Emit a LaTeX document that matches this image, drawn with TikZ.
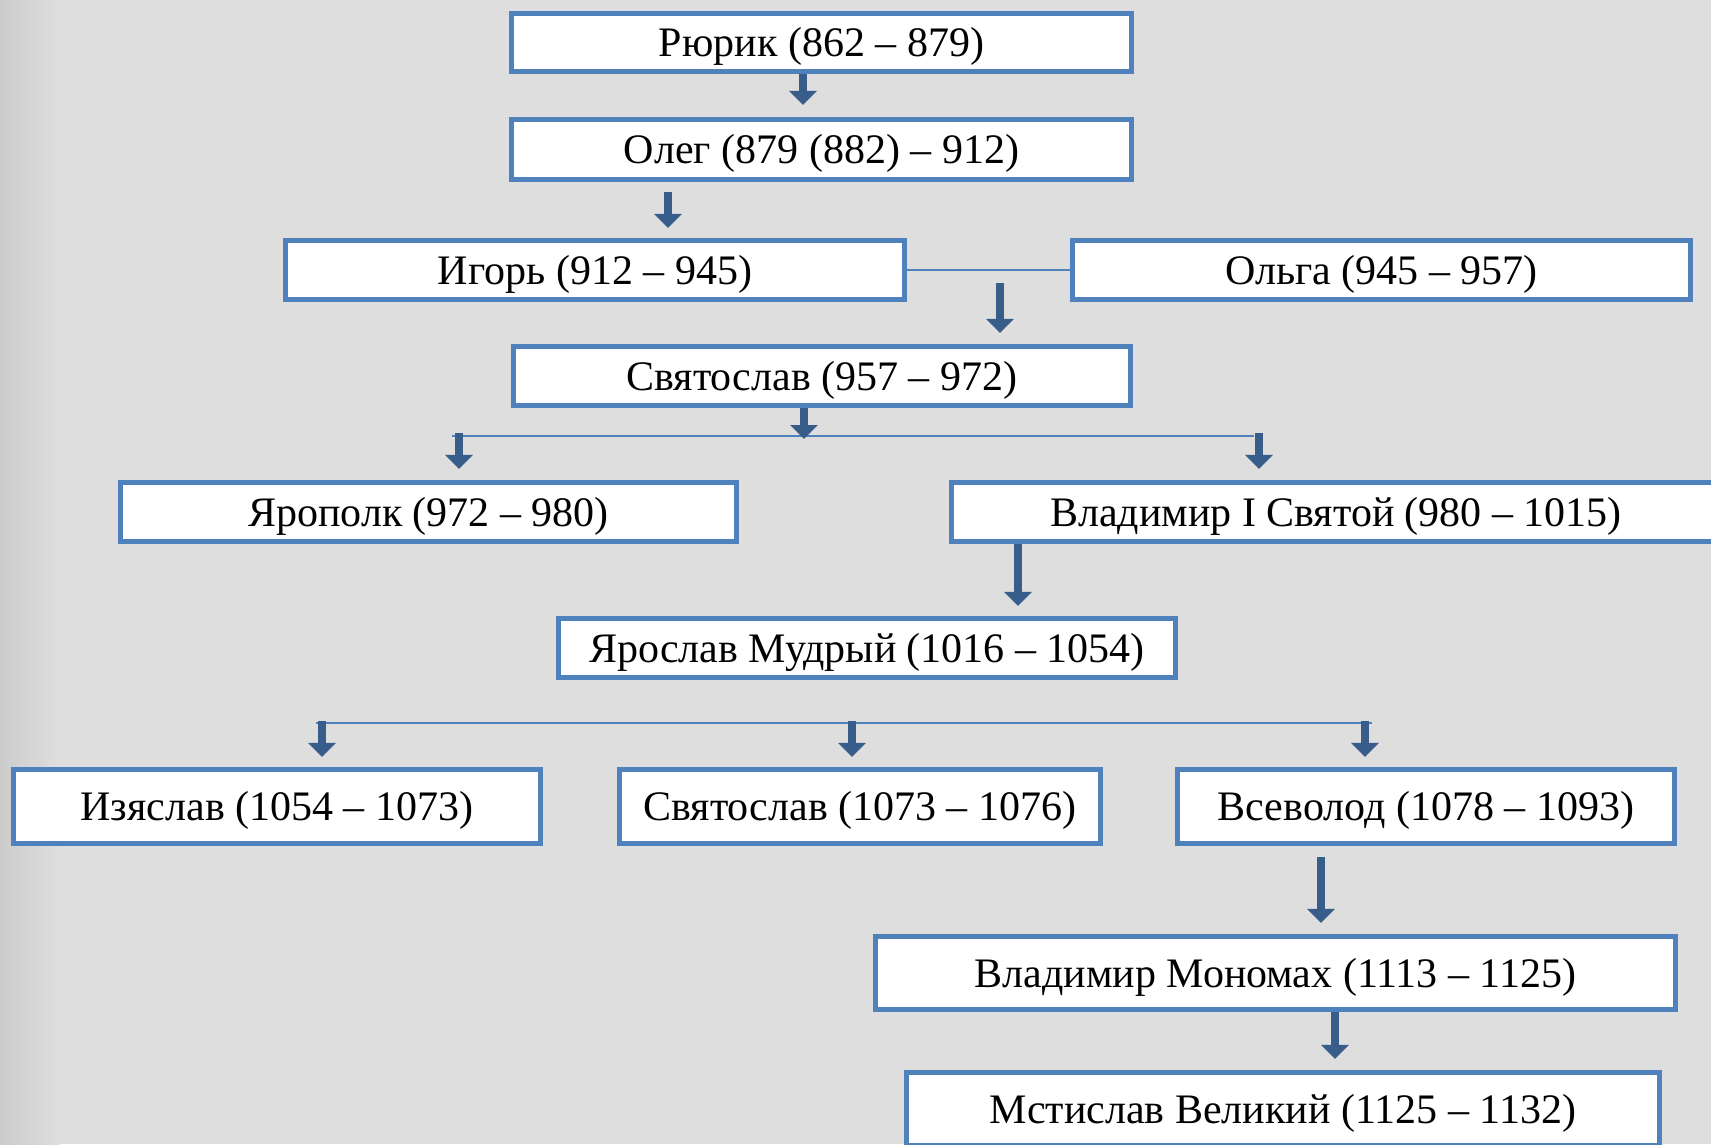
\documentclass[tikz,border=0pt]{standalone}
\usepackage{fontspec}
\setmainfont{Liberation Serif}
\usetikzlibrary{arrows.meta}
\definecolor{boxblue}{RGB}{79,129,189}
\definecolor{arrblue}{RGB}{56,93,138}
\definecolor{bg}{RGB}{222,222,222}
\definecolor{bgdark}{RGB}{204,204,204}
\tikzset{
  box/.style={draw=boxblue, line width=4.8pt, fill=white, inner sep=0pt,
    font=\fontsize{42}{48}\selectfont, text height=28pt, text depth=0pt},
  arr/.style={draw=arrblue, line width=7.5pt,
    -{Triangle[width=27pt,length=14pt]}},
  thin/.style={draw=boxblue, line width=2.5pt}
}
\begin{document}
\begin{tikzpicture}[x=1pt,y=-1pt]
\useasboundingbox (0,0) rectangle (1711,1144);
\fill[bg] (0,0) rectangle (1711,1144);
\shade[left color=bgdark, right color=bg] (0,0) rectangle (60,1144);
% nodes
\node[box, minimum width=620.5pt, minimum height=58.5pt] (rur) at (821.5,42.5) {Рюрик (862 – 879)};
\node[box, minimum width=620.5pt, minimum height=60.5pt] (oleg) at (821.5,149.5) {Олег (879 (882) – 912)};
\node[box, minimum width=619.5pt, minimum height=59.5pt] (igor) at (595,270) {Игорь (912 – 945)};
\node[box, minimum width=618.5pt, minimum height=59.5pt] (olga) at (1381.5,270) {Ольга (945 – 957)};
\node[box, minimum width=617.5pt, minimum height=59.5pt] (svy) at (822,376) {Святослав (957 – 972)};
\node[box, minimum width=616.5pt, minimum height=59.5pt] (yarop) at (428.5,512) {Ярополк (972 – 980)};
\node[box, minimum width=769.5pt, minimum height=59.5pt] (vlad) at (1336,512) {Владимир I Святой (980 – 1015)};
\node[box, minimum width=617.5pt, minimum height=59.5pt] (yaros) at (867,648) {Ярослав Мудрый (1016 – 1054)};
\node[box, minimum width=527.5pt, minimum height=74.5pt] (izya) at (277,806.5) {Изяслав (1054 – 1073)};
\node[box, minimum width=481.5pt, minimum height=74.5pt] (svy2) at (860,806.5) {Святослав (1073 – 1076)};
\node[box, minimum width=497.5pt, minimum height=74.5pt] (vsev) at (1426,806.5) {Всеволод (1078 – 1093)};
\node[box, minimum width=800.5pt, minimum height=73.5pt] (mono) at (1275.5,973) {Владимир Мономах (1113 – 1125)};
\node[box, minimum width=753.5pt, minimum height=73.5pt] (msti) at (1283,1109) {Мстислав Великий (1125 – 1132)};
% junction coordinates
\coordinate (c1) at (803,74);
\coordinate (c2) at (668,192);
\coordinate (c4) at (1000,283);
\coordinate (s1) at (804,408);
\coordinate (h1l) at (452,436);
\coordinate (h1r) at (1254,436);
\coordinate (d1) at (459,433);
\coordinate (d2) at (1259,433);
\coordinate (h2l) at (316,723);
\coordinate (h2r) at (1372,723);
\coordinate (e1) at (322,721);
\coordinate (e2) at (852,721);
\coordinate (e3) at (1365,721);
\coordinate (c9) at (1018,544);
\coordinate (c12) at (1321,857);
\coordinate (c13) at (1335,1012);
% connectors
\draw[thin] (igor.east) -- (olga.west);
\draw[thin] (h1l) -- (h1r);
\draw[thin] (h2l) -- (h2r);
\draw[arr, shorten >=12pt] (c1) -- (c1 |- oleg.north);
\draw[arr, shorten >=10pt] (c2) -- (c2 |- igor.north);
\draw[arr, shorten >=11pt] (c4) -- (c4 |- svy.north);
\draw[arr, shorten >=-3pt] (s1) -- (s1 |- h1l);
\draw[arr, shorten >=11pt] (d1) -- (d1 |- yarop.north);
\draw[arr, shorten >=11pt] (d2) -- (d2 |- vlad.north);
\draw[arr, shorten >=10pt] (c9) -- (c9 |- yaros.north);
\draw[arr, shorten >=10pt] (e1) -- (e1 |- izya.north);
\draw[arr, shorten >=10pt] (e2) -- (e2 |- svy2.north);
\draw[arr, shorten >=10pt] (e3) -- (e3 |- vsev.north);
\draw[arr, shorten >=11pt] (c12) -- (c12 |- mono.north);
\draw[arr, shorten >=11pt] (c13) -- (c13 |- msti.north);
\end{tikzpicture}
\end{document}
